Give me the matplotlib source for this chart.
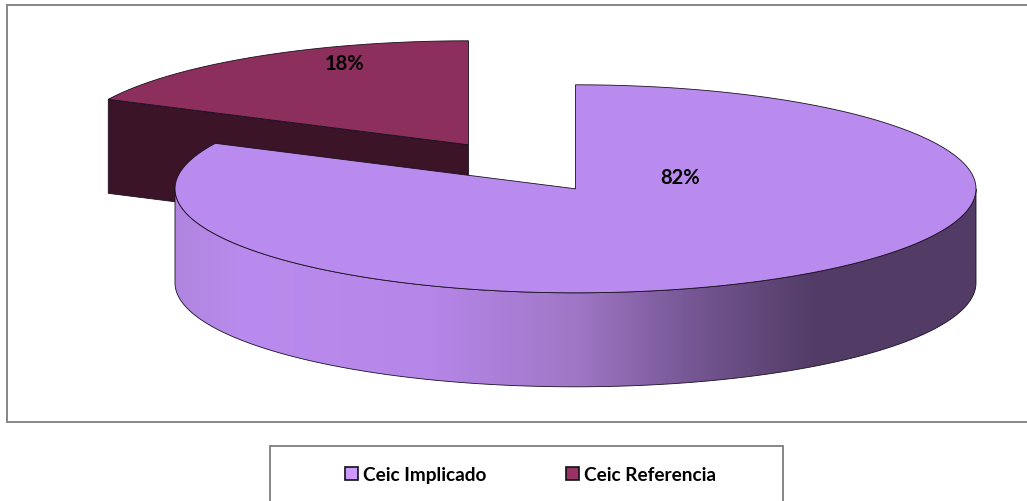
#!/usr/bin/env python3
import numpy as np
import matplotlib
matplotlib.use('Agg')
import matplotlib.pyplot as plt
import matplotlib.patches as mpatches
from matplotlib.colors import LinearSegmentedColormap

# chart values
categories = ['Ceic Implicado', 'Ceic Referencia']
shares = [82.2, 17.8]

plt.rcParams['font.family'] = ['Lato', 'DejaVu Sans']

fig = plt.figure(figsize=(10.27, 5.02), dpi=100)
ax = fig.add_axes([0, 0, 1, 1])
ax.set_xlim(0, 1027)
ax.set_ylim(501.2, -0.8)
ax.axis('off')

# ---------------------------------------------------------------------------
# Pie geometry (pixels of the canvas)
# ---------------------------------------------------------------------------
rx, ry = 400.5, 104
depth = 94
bigCentre = (575.5, 189)
smallCentre = (468.5, 145)
edge = '#1a1020'


def rim(centre, t0, t1, n=300, dy=0):
    # t is clockwise from 12 o'clock, in degrees
    t = np.radians(np.linspace(t0, t1, n))
    return np.column_stack([centre[0] + rx * np.sin(t),
                            centre[1] - ry * np.cos(t) + dy])


bigEnd = shares[0] / sum(shares) * 360

# frame of the chart and of the legend
ax.add_patch(mpatches.Rectangle((7, 5), 1030, 417, fc='white', ec='#868686', lw=1.4, zorder=0))
ax.add_patch(mpatches.Rectangle((270, 446.5), 513, 70, fc='white', ec='#868686', lw=1.4, zorder=0))

# --- small slice, pulled out of the pie -------------------------------------
smallTop = rim(smallCentre, bigEnd, 360)
cutEnd = smallTop[0]
cutWall = np.array([smallCentre, cutEnd, cutEnd + [0, depth], np.array(smallCentre) + [0, depth]])
ax.add_patch(mpatches.Polygon(cutWall, fc='#3b1428', ec=edge, lw=0.6, zorder=2))
ax.add_patch(mpatches.Polygon(np.vstack([[smallCentre], smallTop]),
                              fc='#8c2f5c', ec=edge, lw=0.6, zorder=3))

# --- big slice: outer wall with horizontal shading --------------------------
wallTop = rim(bigCentre, 90, 270)
wallBottom = rim(bigCentre, 270, 90, dy=depth)
wall = mpatches.Polygon(np.vstack([wallTop, wallBottom]), fc='none', ec=edge, lw=0.6, zorder=5)
ax.add_patch(wall)

shade = LinearSegmentedColormap.from_list('wall', [
    (0.00, '#b085df'), (0.09, '#ba8bee'), (0.32, '#b686e8'),
    (0.50, '#9f77c6'), (0.66, '#72548f'), (0.80, '#523c66'), (1.00, '#523c66')])
img = ax.imshow(np.linspace(0, 1, 512).reshape(1, -1), cmap=shade, aspect='auto',
                extent=(bigCentre[0] - rx, bigCentre[0] + rx, 400, 180), zorder=4)
img.set_clip_path(wall)
ax.set_xlim(0, 1027)
ax.set_ylim(501.2, -0.8)

# --- big slice: top face ----------------------------------------------------
bigTop = rim(bigCentre, 0, bigEnd, n=600)
ax.add_patch(mpatches.Polygon(np.vstack([[bigCentre], bigTop]),
                              fc='#ba8bee', ec=edge, lw=0.6, zorder=6))

# --- labels -----------------------------------------------------------------
ax.text(680.5, 177, f'{shares[0]:.0f}%', ha='center', va='center',
        fontsize=14.5, fontweight='bold', color='black', zorder=7)
ax.text(344, 63, f'{shares[1]:.0f}%', ha='center', va='center',
        fontsize=14.5, fontweight='bold', color='black', zorder=7)

# --- legend -----------------------------------------------------------------
handles = [mpatches.Patch(fc='#cc99ff', ec='#111111', lw=1.2),
           mpatches.Patch(fc='#993366', ec='#111111', lw=1.2)]
ax.legend(handles, categories, ncol=2, frameon=False, loc='center',
          bbox_to_anchor=(530.5, 474.5), bbox_transform=ax.transData,
          prop={'size': 13.7, 'weight': 'bold'},
          handlelength=0.68, handleheight=0.68, handletextpad=0.26, columnspacing=4.2)

fig.savefig('out.png', dpi=100)
